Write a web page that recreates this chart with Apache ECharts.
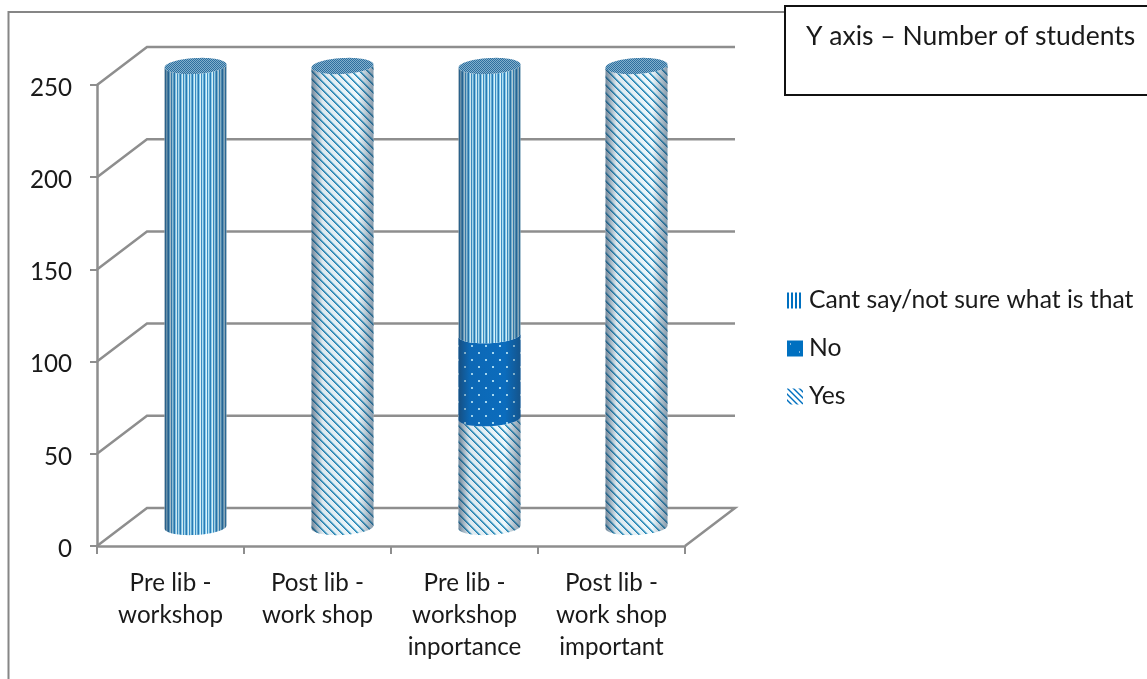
<!DOCTYPE html>
<html>
<head>
<meta charset="utf-8">
<style>
	html, body { margin: 0; padding: 0; background: #fff; }
	#chart { width: 1147px; height: 679px; }
</style>
<script src="https://cdn.jsdelivr.net/npm/echarts@6/dist/echarts.min.js"></script>
</head>
<body>
<div id="chart"></div>
<script>
// data
var categories = ['Pre lib -\nworkshop', 'Post lib -\nwork shop', 'Pre lib -\nworkshop\ninportance', 'Post lib -\nwork shop\nimportant'];
var yesValues = [0, 250, 59, 250];
var noValues = [0, 0, 45, 0];
var cantSayValues = [250, 0, 146, 0];
var wallTicks = [0, 50, 100, 150, 200, 250];

var fontName = 'Lato';
var lineGrey = '#8e8e8e';
var depthX = 50, depthY = -38;	// depth of the fake 3d box
var barWidth = 62, ellipseRy = 8, tilt = -0.05;

// small tiled texture, painted pixel by pixel
function makeTexture(w, h, paint) {
	var c = document.createElement('canvas');
	c.width = w;
	c.height = h;
	var ctx = c.getContext('2d');
	for (var x = 0; x < w; x++) {
		for (var y = 0; y < h; y++) {
			ctx.fillStyle = paint(x, y);
			ctx.fillRect(x, y, 1, 1);
		}
	}
	return {image: c, repeat: 'repeat'};
}

var stripeColors = ['#2a7db8', '#8dd0ee', '#dff4fb', '#3a90c6', '#b4e3f5', '#66aed8'];
var texStripes = makeTexture(6, 4, function(x) { return stripeColors[x]; });
var texDiagonal = makeTexture(8, 8, function(x, y) {
	var d = (x - y + 16) % 8;
	if (d === 0) return '#2a86b6';
	if (d === 1) return '#4fa3c9';
	if (d === 2) return '#a9d6e8';
	return '#eef8fc';
});
var texDots = makeTexture(14, 14, function(x, y) {
	if ((x >= 2 && x <= 3 && y >= 2 && y <= 3) || (x >= 9 && x <= 10 && y >= 9 && y <= 10)) return '#a8dcf5';
	return '#0b6cbd';
});
var texLid = makeTexture(4, 4, function(x, y) {
	return (x + y) % 2 === 0 ? '#2f6f9f' : '#82b0cc';
});

// legend swatches are crisper than the columns
var keyStripes = makeTexture(4, 4, function(x) { return x < 2 ? '#0070c0' : '#ffffff'; });
var keyDots = makeTexture(16, 16, function(x, y) {
	return (x === 3 && y === 3) || (x === 12 && y === 11) ? '#ffffff' : '#0070c0';
});
var keyDiagonal = makeTexture(6, 6, function(x, y) {
	return (x - y + 12) % 6 < 2 ? '#0070c0' : '#ffffff';
});

var shade = {
	type: 'linear', x: 0, y: 0, x2: 1, y2: 0,
	colorStops: [
		{offset: 0, color: 'rgba(30,60,90,0.6)'},
		{offset: 0.18, color: 'rgba(30,60,90,0.08)'},
		{offset: 0.75, color: 'rgba(30,60,90,0)'},
		{offset: 1, color: 'rgba(30,60,90,0.5)'}
	]
};

// half ellipse as polygon points, from left to right
function arcPoints(cx, cy, rx, ry, lower) {
	var pts = [];
	for (var i = 0; i <= 28; i++) {
		var a = Math.PI * i / 28;
		var px = cx - rx * Math.cos(a);
		var py = cy + (lower ? 1 : -1) * ry * Math.sin(a) + tilt * (px - cx);
		pts.push([px, py]);
	}
	return pts;
}

// one stacked piece of a cylinder
function renderPiece(texture) {
	return function(params, api) {
		var idx = api.value(0);
		if (api.value(2) <= api.value(1)) return null;
		var bottom = api.coord([idx, api.value(1)]);
		var top = api.coord([idx, api.value(2)]);
		var cx = bottom[0] + depthX / 2;
		var yBottom = bottom[1] + depthY / 2;
		var yTop = top[1] + depthY / 2;
		var rx = barWidth / 2;

		var body = arcPoints(cx, yBottom, rx, ellipseRy, true)
			.concat(arcPoints(cx, yTop, rx, ellipseRy, true).reverse());
		var children = [
			{type: 'polygon', shape: {points: body}, style: {fill: texture}},
			{type: 'polygon', shape: {points: body}, style: {fill: shade}}
		];
		if (api.value(3)) {
			var lid = arcPoints(cx, yTop, rx, ellipseRy, true)
				.concat(arcPoints(cx, yTop, rx, ellipseRy, false).reverse());
			children.push({type: 'polygon', shape: {points: lid}, style: {fill: texLid}});
		}
		return {type: 'group', children: children};
	};
}

// [category, start, end, is top piece]
var baseYes = yesValues.map(function() { return 0; });
var baseNo = yesValues.slice();
var baseCant = yesValues.map(function(v, i) { return v + noValues[i]; });

function pieceData(base, values, upper) {
	return values.map(function(v, i) {
		return [i, base[i], base[i] + v, upper[i] === 0 ? 1 : 0];
	});
}
var upperYes = noValues.map(function(v, i) { return v + cantSayValues[i]; });

// back wall and floor lines
function renderWall(params, api) {
	var front = api.coord([0, api.value(0)]);
	var size = api.size([1, 0]);
	var left = front[0] - size[0] / 2;
	var lines = [
		[left, front[1]],
		[left + depthX, front[1] + depthY],
		[left + size[0] * categories.length + depthX, front[1] + depthY]
	];
	if (api.value(0) === 0) {
		lines.push([left + size[0] * categories.length, front[1]]);
	}
	return {
		type: 'polyline',
		shape: {points: lines},
		style: {fill: null, stroke: lineGrey, lineWidth: 2.5}
	};
}

var chart = echarts.init(document.getElementById('chart'));

var option = {
	animation: false,
	textStyle: {fontFamily: fontName},
	grid: {left: 97, top: 85, width: 588, height: 461},
	legend: {
		orient: 'vertical',
		left: 782,
		top: 283,
		itemWidth: 16,
		itemHeight: 16,
		itemGap: 23,
		icon: 'rect',
		selectedMode: false,
		data: ['Cant say/not sure what is that', 'No', 'Yes'],
		textStyle: {fontFamily: fontName, fontSize: 24.7, color: '#1a1a1a', padding: [2, 0, 0, 1]}
	},
	xAxis: {
		type: 'category',
		data: categories,
		axisLine: {lineStyle: {color: lineGrey, width: 2.5}},
		axisTick: {show: true, length: 8, alignWithLabel: false, lineStyle: {color: lineGrey, width: 2}},
		axisLabel: {fontFamily: fontName, fontSize: 24.2, color: '#1a1a1a', lineHeight: 32, margin: 21, interval: 0}
	},
	yAxis: {
		type: 'value',
		min: 0,
		max: 250,
		interval: 50,
		splitLine: {show: false},
		axisLine: {show: true, lineStyle: {color: lineGrey, width: 2.5}},
		axisTick: {show: true, length: 7, lineStyle: {color: lineGrey, width: 2}},
		axisLabel: {
			margin: 25,
			formatter: '{tick|{value}}',
			rich: {
				tick: {fontFamily: fontName, fontSize: 24.2, color: '#1a1a1a', padding: [6, 0, 0, 0]}
			}
		}
	},
	series: [
		{
			type: 'custom',
			name: 'wall',
			silent: true,
			z: 1,
			renderItem: renderWall,
			encode: {x: -1, y: 0},
			data: wallTicks.map(function(v) { return [v]; })
		},
		{
			type: 'custom',
			name: 'Yes',
			z: 2,
			itemStyle: {color: keyDiagonal},
			renderItem: renderPiece(texDiagonal),
			encode: {x: 0, y: 2},
			data: pieceData(baseYes, yesValues, upperYes)
		},
		{
			type: 'custom',
			name: 'No',
			z: 3,
			itemStyle: {color: keyDots},
			renderItem: renderPiece(texDots),
			encode: {x: 0, y: 2},
			data: pieceData(baseNo, noValues, cantSayValues)
		},
		{
			type: 'custom',
			name: 'Cant say/not sure what is that',
			z: 4,
			itemStyle: {color: keyStripes},
			renderItem: renderPiece(texStripes),
			encode: {x: 0, y: 2},
			data: pieceData(baseCant, cantSayValues, [0, 0, 0, 0])
		}
	],
	graphic: [
		{
			type: 'polyline',
			silent: true,
			shape: {points: [[785, 12], [8.5, 12], [8.5, 679]]},
			style: {fill: null, stroke: '#868686', lineWidth: 2}
		},
		{
			type: 'rect',
			silent: true,
			shape: {x: 785, y: 6, width: 400, height: 89},
			style: {fill: '#fff', stroke: '#111', lineWidth: 2}
		},
		{
			type: 'text',
			silent: true,
			x: 806,
			y: 23,
			style: {text: 'Y axis – Number of students', fontFamily: fontName, fontSize: 26.5, fill: '#1a1a1a'}
		}
	]
};

chart.setOption(option);
</script>
</body>
</html>
